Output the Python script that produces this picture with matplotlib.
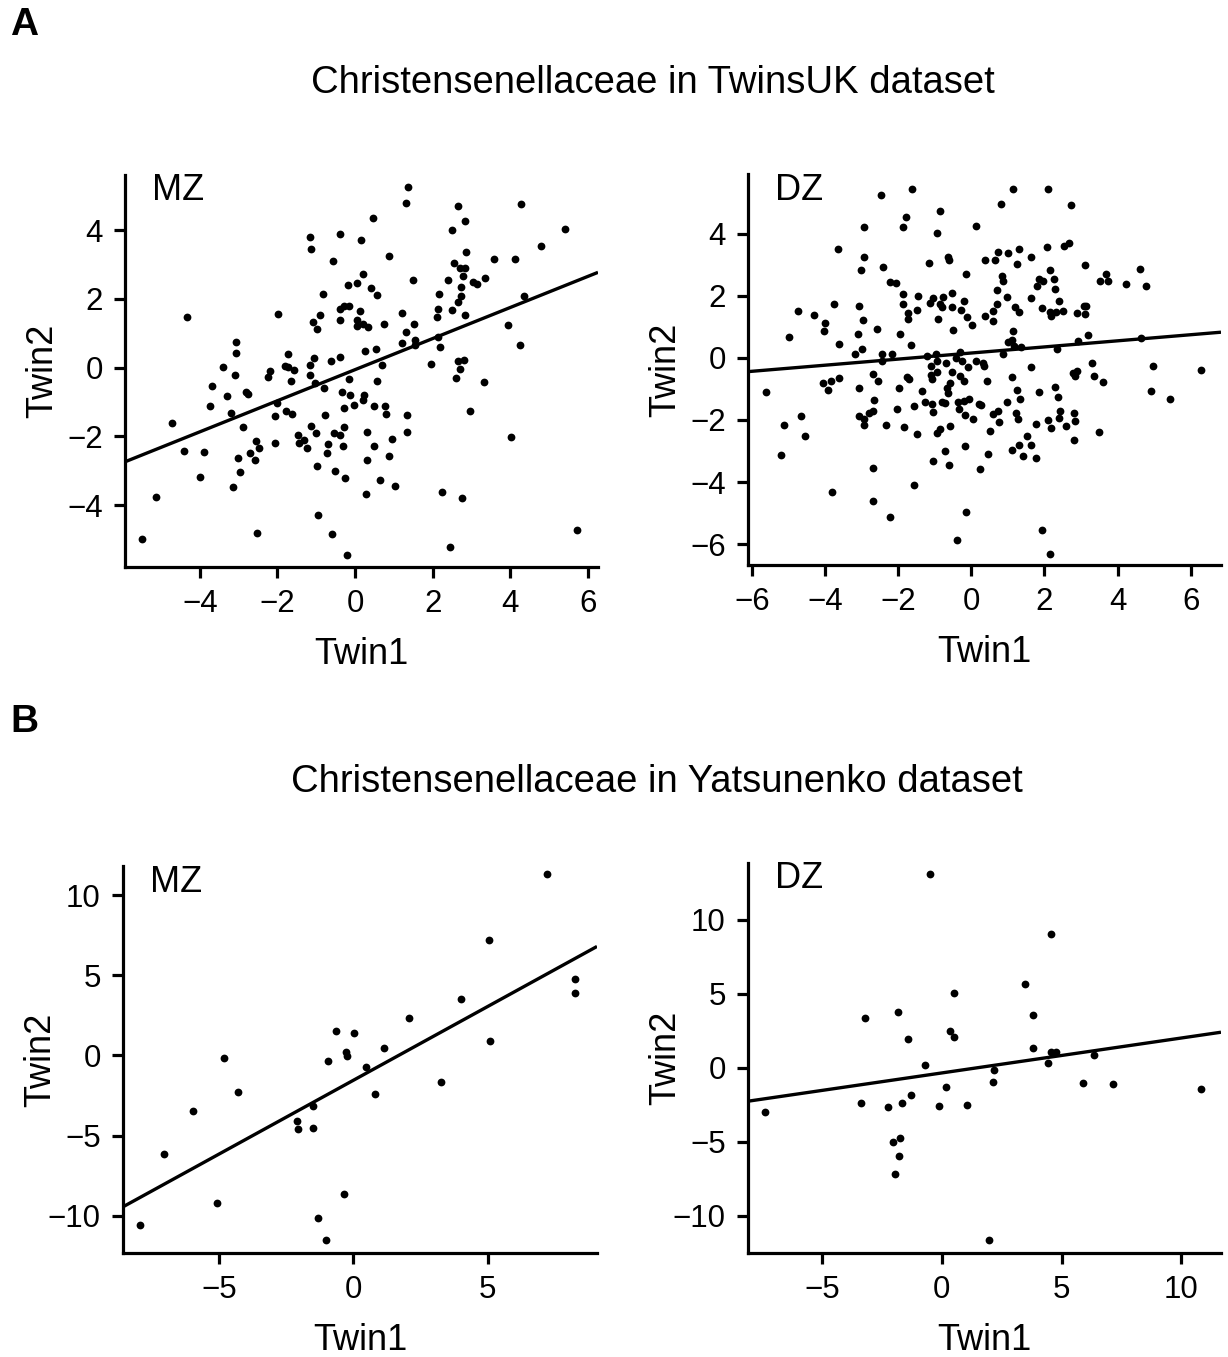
import numpy as np
import matplotlib.pyplot as plt

plt.rcParams['font.family'] = ['Liberation Sans', 'DejaVu Sans']

# TwinsUK, monozygotic pairs (twin1, twin2)
mz_uk = np.array([
    [-1.16, 3.81], [-1.13, 3.44], [-0.40, 3.87], [-0.57, 3.09], [-0.18, 2.39],
    [-0.82, 2.15], [-0.39, 1.69], [-0.28, 1.80], [-0.16, 1.80], [-0.90, 1.54],
    [-1.08, 1.32], [-0.98, 1.12], [-0.40, 1.39], [-1.99, 1.55], [-4.32, 1.47],
    [-3.06, 0.75], [-3.06, 0.41], [-1.73, 0.39], [-3.41, 0.01], [-3.09, -0.21],
    [-1.80, 0.05], [-1.72, 0.03], [-1.57, -0.08], [-2.19, -0.09], [-2.25, -0.28],
    [-1.64, -0.39], [-1.16, 0.07], [-1.06, 0.27], [-1.17, -0.21], [-0.61, 0.18],
    [-0.40, 0.30], [-1.04, -0.46], [-0.79, -0.60], [-0.35, -0.71], [-0.17, -0.32],
    [-0.13, -0.81], [-0.28, -1.17], [-3.68, -0.54], [-3.31, -0.83], [-2.82, -0.71],
    [-2.76, -0.76], [-3.75, -1.11], [-3.20, -1.31], [-2.00, -1.02], [-2.06, -1.40],
    [-1.78, -1.26], [-1.62, -1.36], [-4.72, -1.61], [-2.90, -1.73], [-2.56, -2.14],
    [-2.47, -2.35], [-2.70, -2.49], [-3.01, -2.62], [-2.58, -2.70], [-2.96, -3.04],
    [-3.14, -3.46], [-2.06, -2.20], [-1.48, -1.97], [-1.44, -2.19], [-1.31, -2.11],
    [-1.25, -2.33], [-1.13, -1.69], [-1.01, -1.89], [-0.77, -1.39], [-0.55, -1.90],
    [-0.40, -1.97], [-0.29, -1.73], [-0.31, -2.27], [-0.70, -2.21], [-0.73, -2.49],
    [-0.98, -2.86], [-0.52, -3.00], [-0.25, -3.22], [-4.42, -2.42], [-3.90, -2.46],
    [-4.00, -3.18], [-5.13, -3.75], [-5.49, -4.98], [-2.53, -4.82], [-0.95, -4.29],
    [-0.59, -4.84], [-0.22, -5.44],
    [1.37, 5.25], [1.30, 4.78], [0.46, 4.36], [0.16, 3.71], [0.87, 3.24],
    [0.06, 2.46], [0.21, 2.72], [0.40, 2.30], [0.57, 2.11], [0.13, 1.64],
    [0.04, 1.39], [0.04, 1.20], [0.20, 1.27], [0.34, 1.19], [0.75, 1.28],
    [0.26, 0.49], [0.53, 0.53], [0.70, 0.07], [0.56, -0.39], [-0.04, -1.10],
    [0.23, -0.80], [0.21, -0.93], [0.49, -1.13], [0.78, -1.13], [0.80, -1.36],
    [0.30, -1.88], [0.49, -2.29], [0.30, -2.69], [0.94, -2.07], [0.87, -2.58],
    [0.63, -3.28], [0.27, -3.67], [1.03, -3.44], [1.50, 2.56], [1.21, 1.58],
    [1.30, 1.03], [1.53, 1.27], [1.22, 0.72], [1.55, 0.81], [1.54, 0.66],
    [1.33, -1.38], [1.33, -1.88], [1.96, 0.09], [2.13, 0.88], [2.18, 0.60],
    [2.10, 1.48], [2.13, 1.71], [2.15, 2.13], [2.39, 2.54], [2.55, 3.05],
    [2.49, 4.00], [2.65, 4.69], [2.84, 4.26], [2.86, 3.35], [2.71, 2.90],
    [2.83, 2.90], [2.77, 2.66], [2.72, 2.34], [2.73, 2.08], [2.64, 1.90],
    [2.49, 1.67], [2.83, 1.53], [3.03, 2.49], [3.14, 2.42], [3.34, 2.60],
    [3.57, 3.17], [4.12, 3.17], [4.28, 4.76], [4.79, 3.53], [5.40, 4.03],
    [4.36, 2.08], [3.93, 1.24], [4.25, 0.65], [2.65, 0.18], [2.80, 0.23],
    [2.71, -0.03], [2.61, -0.30], [3.31, -0.42], [2.95, -1.25], [4.01, -2.03],
    [2.25, -3.63], [2.75, -3.80], [2.45, -5.21], [5.71, -4.72],
])

# TwinsUK, dizygotic pairs
dz_uk = np.array([
    [-2.46, 5.23], [-1.61, 5.44], [-0.86, 4.72], [-1.80, 4.55], [-1.86, 4.20],
    [-2.94, 4.22], [-0.94, 4.01], [-3.65, 3.52], [-2.93, 3.25], [-3.03, 2.84],
    [-2.43, 2.92], [-1.16, 3.05], [-0.65, 3.24], [-0.62, 3.15], [-0.14, 2.69],
    [-2.22, 2.45], [-2.05, 2.42], [-1.86, 2.07], [-1.47, 1.99], [-1.04, 1.94],
    [-1.13, 1.78], [-0.77, 1.97], [-0.52, 2.10], [-1.87, 1.75], [-0.87, 1.73],
    [-0.80, 1.63], [-0.54, 1.63], [-0.20, 1.84], [-0.28, 1.53], [-3.07, 1.68],
    [-3.76, 1.73], [-4.74, 1.51], [-4.31, 1.39], [-4.01, 1.13], [-1.73, 1.43],
    [-1.72, 1.25], [-1.50, 1.54], [-0.90, 1.25], [-0.13, 1.32], [-2.97, 1.21],
    [0.03, 1.06], [-2.59, 0.92], [-0.49, 0.91],
    [-4.03, 0.88], [-5.00, 0.66], [-3.10, 0.78], [-1.96, 0.76], [-3.61, 0.44],
    [-3.00, 0.27], [-3.17, 0.11], [-1.66, 0.40], [-2.44, 0.13], [-2.18, 0.11],
    [-2.44, -0.11], [-1.21, 0.05], [-0.96, 0.11], [-0.93, -0.11], [-0.69, -0.15],
    [-0.30, 0.19], [-0.42, -0.01], [-0.26, -0.11], [-0.08, -0.29], [-1.10, -0.27],
    [-0.94, -0.47], [-1.10, -0.54], [-1.07, -0.69], [-0.52, -0.44], [-0.59, -0.81],
    [-0.66, -0.97], [-0.64, -1.13], [-0.31, -0.60], [-0.21, -0.75], [-2.69, -0.53],
    [-2.54, -0.73], [-1.77, -0.63], [-1.70, -0.68], [-4.05, -0.82], [-3.84, -0.75],
    [-3.92, -1.05], [-3.61, -0.64], [-5.62, -1.11], [-3.08, -0.97], [-1.99, -0.96],
    [-1.34, -1.06], [-2.67, -1.35], [-1.26, -1.42], [-1.07, -1.48], [-0.81, -1.42],
    [-0.72, -1.46], [-0.37, -1.42], [-0.21, -1.38], [-0.07, -1.32], [-1.57, -1.56],
    [-2.04, -1.66], [-2.70, -1.72], [-2.79, -1.76], [-1.04, -1.75], [-0.33, -1.66],
    [-0.17, -1.83], [0.05, -1.96], [-4.67, -1.88], [-3.07, -1.88], [-2.95, -1.96],
    [1.13, 0.87], [1.01, 0.51], [1.12, 0.59], [1.16, 0.38], [1.36, 0.36],
    [0.86, 0.13], [2.33, 0.27], [2.92, 0.53], [3.20, 0.72], [4.63, 0.65],
    [0.13, -0.11], [0.33, -0.16], [0.34, -0.26], [1.63, -0.28], [3.30, -0.16],
    [4.98, -0.25], [6.28, -0.39], [1.12, -0.61], [0.42, -0.75], [2.79, -0.48],
    [2.88, -0.42], [2.83, -0.60], [3.35, -0.59], [3.61, -0.79], [1.24, -1.02],
    [1.84, -1.10], [2.28, -0.95], [1.33, -1.31], [2.36, -1.25], [4.91, -1.06],
    [5.44, -1.31], [0.97, -1.43], [0.22, -1.48], [0.27, -1.51], [0.60, -1.80],
    [0.73, -1.72], [1.21, -1.78], [2.42, -1.70], [2.82, -1.78], [1.29, -1.97],
    [2.41, -1.93],
    [1.13, 5.44], [2.09, 5.44], [0.80, 4.95], [2.72, 4.93], [0.13, 4.26],
    [2.68, 3.71], [2.54, 3.60], [2.08, 3.58], [1.30, 3.50], [1.01, 3.39],
    [0.72, 3.42], [0.36, 3.15], [0.65, 3.15], [1.62, 3.25], [1.26, 3.01],
    [3.11, 3.00], [2.16, 2.84], [4.62, 2.86], [3.68, 2.70], [3.53, 2.46],
    [3.75, 2.46], [4.24, 2.37], [4.77, 2.31], [0.83, 2.65], [0.86, 2.47],
    [1.86, 2.54], [1.95, 2.46], [1.79, 2.30], [2.26, 2.53], [2.29, 2.22],
    [0.71, 2.20], [0.97, 1.97], [1.62, 1.92], [2.39, 1.83], [0.71, 1.72],
    [1.19, 1.65], [1.30, 1.48], [0.58, 1.51], [0.37, 1.36], [0.59, 1.20],
    [1.93, 1.59], [2.16, 1.47], [2.18, 1.36], [2.32, 1.49], [2.50, 1.50],
    [2.90, 1.46], [3.07, 1.67], [3.14, 1.66], [3.10, 1.40],
    [-5.13, -2.16], [-5.21, -3.12], [-4.56, -2.53], [-3.81, -4.32], [-2.68, -3.56],
    [-2.68, -4.60], [-2.22, -5.13], [-1.57, -4.08], [-1.06, -3.31], [-0.60, -3.46],
    [-0.73, -2.99], [-0.18, -2.85], [-0.15, -4.95], [-0.38, -5.87], [-2.95, -2.16],
    [-2.34, -2.16], [-1.84, -2.23], [-1.48, -2.46], [-0.94, -2.41], [-0.86, -2.29],
    [-0.58, -2.19],
    [0.50, -2.36], [0.46, -3.11], [0.25, -3.57], [1.10, -2.98], [1.30, -2.82],
    [1.41, -3.15], [1.53, -2.53], [1.64, -2.79], [1.78, -3.23], [1.76, -2.12],
    [2.09, -2.01], [2.18, -2.26], [2.59, -2.18], [2.81, -2.65], [3.50, -2.40],
    [1.93, -5.54], [2.14, -6.32], [2.83, -2.04], [0.76, -2.08],
])

# Yatsunenko, monozygotic pairs
mz_yat = np.array([
    [7.21, 11.35], [5.06, 7.19], [8.26, 4.75], [8.26, 3.92], [4.01, 3.54],
    [2.09, 2.35], [-0.66, 1.54], [0.02, 1.40], [-0.28, 0.23], [-0.23, -0.06],
    [-0.94, -0.33], [1.15, 0.44], [0.46, -0.69], [5.10, 0.88], [3.26, -1.67],
    [0.80, -2.40], [-4.79, -0.17], [-4.28, -2.27], [-5.94, -3.48], [-7.02, -6.15],
    [-1.49, -3.15], [-2.09, -4.06], [-2.04, -4.56], [-1.48, -4.52], [-5.07, -9.23],
    [-7.91, -10.58], [-0.35, -8.67], [-1.31, -10.15], [-1.00, -11.52],
])

# Yatsunenko, dizygotic pairs
dz_yat = np.array([
    [-0.52, 13.09], [4.57, 9.05], [3.47, 5.70], [0.51, 5.07], [3.79, 3.58],
    [-3.20, 3.36], [-1.84, 3.78], [0.33, 2.48], [0.52, 2.12], [-1.40, 1.94],
    [3.82, 1.35], [4.57, 1.06], [4.79, 1.10], [4.45, 0.36], [6.37, 0.86],
    [-0.69, 0.23], [2.16, -0.16], [2.14, -0.95], [0.18, -1.31], [5.91, -1.04],
    [7.15, -1.08], [10.83, -1.40], [-1.29, -1.82], [-3.40, -2.36], [-2.24, -2.61],
    [-1.65, -2.39], [-0.12, -2.59], [1.04, -2.50], [-7.38, -3.00], [-2.04, -5.00],
    [-1.75, -4.75], [-1.80, -5.92], [-1.98, -7.18], [1.96, -11.62],
])

W, H = 1228, 1357
fig = plt.figure(figsize=(W / 100, H / 100), dpi=100)


def panel(box, pts, label, xlim, ylim, xticks, yticks):
    left, top, right, bottom = box
    ax = fig.add_axes([left / W, 1 - bottom / H, (right - left) / W, (bottom - top) / H])
    ax.plot(pts[:, 0], pts[:, 1], 'o', color='black', ms=5.6, mec='none')
    # least squares line across the whole panel
    b1, b0 = np.polyfit(pts[:, 0], pts[:, 1], 1)
    xs = np.array(xlim)
    ax.plot(xs, b1 * xs + b0, color='black', lw=2.4, solid_capstyle='butt')
    ax.set_xlim(xlim)
    ax.set_ylim(ylim)
    ax.set_xticks(xticks)
    ax.set_yticks(yticks)
    for s in ['top', 'right']:
        ax.spines[s].set_visible(False)
    for s in ['left', 'bottom']:
        ax.spines[s].set_linewidth(2.3)
    ax.tick_params(width=2.3, length=8, labelsize=22.5, pad=8)
    ax.set_xlabel('Twin1', fontsize=26)
    ax.set_ylabel('Twin2', fontsize=26)
    ax.xaxis.set_label_coords(0.5, -88 / (bottom - top))
    ax.xaxis.label.set_va('center')
    ax.yaxis.set_label_coords(-82 / (right - left), 0.5)
    ax.yaxis.label.set_va('center')
    ax.text(27 / (right - left), 1 - 16 / (bottom - top), label, transform=ax.transAxes,
            fontsize=26, ha='left', va='center')
    return ax


panel((125, 175, 598, 567), mz_uk, 'MZ', (-5.93, 6.26), (-5.8, 5.6),
      [-4, -2, 0, 2, 4, 6], [-4, -2, 0, 2, 4])
panel((748, 174, 1221, 565), dz_uk, 'DZ', (-6.11, 6.83), (-6.67, 5.92),
      [-6, -4, -2, 0, 2, 4, 6], [-6, -4, -2, 0, 2, 4])
panel((123, 866, 597, 1253), mz_yat, 'MZ', (-8.56, 9.06), (-12.33, 11.83),
      [-5, 0, 5], [-10, -5, 0, 5, 10])
panel((748, 863, 1221, 1253), dz_yat, 'DZ', (-8.11, 11.67), (-12.5, 13.85),
      [-5, 0, 5, 10], [-10, -5, 0, 5, 10])

fig.text(653 / W, 1 - 83 / H, 'Christensenellaceae in TwinsUK dataset',
         fontsize=27.5, ha='center', va='center')
fig.text(657 / W, 1 - 782 / H, 'Christensenellaceae in Yatsunenko dataset',
         fontsize=27.5, ha='center', va='center')
fig.text(10 / W, 1 - 25 / H, 'A', fontsize=28, fontweight='bold', ha='left', va='center')
fig.text(10 / W, 1 - 722 / H, 'B', fontsize=28, fontweight='bold', ha='left', va='center')

fig.savefig('out.png', dpi=100)
